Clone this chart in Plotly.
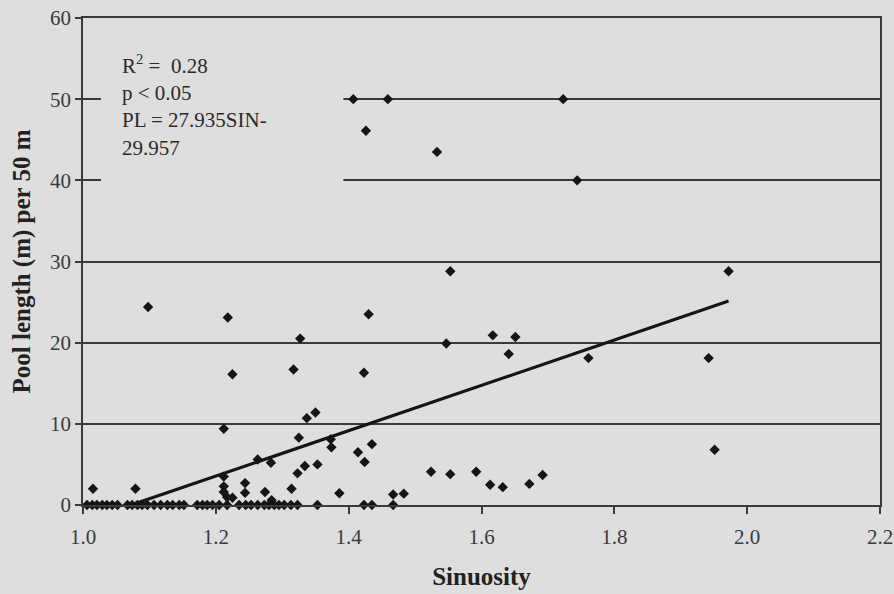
import plotly.graph_objects as go

# Points lying on zero pool length
zero_sin = [1.006, 1.014, 1.021, 1.029, 1.036, 1.044, 1.052, 1.067, 1.074, 1.082,
            1.089, 1.097, 1.107, 1.117, 1.127, 1.135, 1.145, 1.152, 1.172, 1.180,
            1.187, 1.195, 1.205, 1.217, 1.235, 1.245, 1.253, 1.263, 1.273, 1.280,
            1.288, 1.295, 1.303, 1.313, 1.323, 1.353, 1.423, 1.435, 1.467]
zero_pl = [0.0] * len(zero_sin)

# Points with non-zero pool length
sinuosity = [1.015, 1.079, 1.098, 1.212, 1.218, 1.225, 1.212, 1.212, 1.212, 1.217,
             1.225, 1.244, 1.244, 1.263, 1.283, 1.274, 1.284, 1.314, 1.317, 1.323,
             1.325, 1.327, 1.334, 1.337, 1.350, 1.353, 1.373, 1.374, 1.386, 1.407,
             1.414, 1.423, 1.424, 1.426, 1.430, 1.435, 1.459, 1.467, 1.483, 1.524,
             1.533, 1.547, 1.553, 1.553, 1.592, 1.613, 1.617, 1.632, 1.641, 1.651,
             1.672, 1.692, 1.723, 1.744, 1.761, 1.942, 1.951, 1.972]
pool_length = [2.0, 2.0, 24.4, 9.4, 23.1, 16.1, 3.5, 2.3, 1.6, 0.95,
               0.9, 2.7, 1.5, 5.6, 5.2, 1.6, 0.6, 2.0, 16.7, 3.9,
               8.3, 20.5, 4.8, 10.7, 11.4, 5.0, 8.1, 7.1, 1.45, 50.0,
               6.5, 16.3, 5.3, 46.1, 23.5, 7.5, 50.0, 1.3, 1.4, 4.1,
               43.5, 19.9, 28.8, 3.8, 4.1, 2.5, 20.9, 2.2, 18.6, 20.7,
               2.6, 3.7, 50.0, 40.0, 18.1, 18.1, 6.8, 28.8]

# Trend line end points (PL = 27.935 SIN - 29.957)
trend_x = [1.006, 1.972]
trend_y = [-1.85, 25.13]

x_ticks = [1.0, 1.2, 1.4, 1.6, 1.8, 2.0, 2.2]
x_tick_text = ["1.0", "1.2", "1.4", "1.6", "1.8", "2.0", "2.2"]
y_ticks = [0, 10, 20, 30, 40, 50, 60]

BG = "#dedede"
INK = "#151515"
AX = "#3a3a3a"
FONT = "Liberation Serif, Times New Roman, serif"

fig = go.Figure()
fig.add_trace(go.Scatter(x=trend_x, y=trend_y, mode="lines",
                         line=dict(color=INK, width=3.2), showlegend=False,
                         hoverinfo="skip"))
fig.add_trace(go.Scatter(x=zero_sin + sinuosity, y=zero_pl + pool_length,
                         mode="markers",
                         marker=dict(symbol="diamond", size=8, color=INK),
                         showlegend=False, cliponaxis=False))

# Text box that hides the gridlines behind the statistics
fig.add_shape(type="rect", xref="x", yref="y", x0=1.027, x1=1.392, y0=35.5, y1=57.5,
              fillcolor=BG, line=dict(width=0), layer="above")

stats_lines = ["R<sup>2</sup> =  0.28", "p < 0.05", "PL = 27.935SIN-", "29.957"]
fig.add_annotation(xref="x", yref="y", x=1.056, y=56.2, xanchor="left", yanchor="top",
                   text="<br>".join(stats_lines), showarrow=False, align="left",
                   font=dict(family=FONT, size=21, color="#2a2a2a"))

fig.update_xaxes(range=[1.0, 2.2], tickvals=x_ticks, ticktext=x_tick_text,
                 showgrid=False, zeroline=False, showline=True, linecolor=AX,
                 linewidth=1.5, mirror=True, ticks="outside", ticklen=7,
                 tickcolor=AX, tickwidth=1.5, automargin=False,
                 ticklabelstandoff=5,
                 tickfont=dict(family=FONT, size=21, color="#3a3a3a"),
                 title=dict(text="<b>Sinuosity</b>", standoff=20,
                            font=dict(family=FONT, size=25, color="#222222")))
fig.update_yaxes(range=[0, 60], tickvals=y_ticks, showgrid=True, gridcolor=AX,
                 gridwidth=1.5, zeroline=False, showline=True, linecolor=AX,
                 linewidth=1.5, mirror=True, ticks="outside", ticklen=6,
                 tickcolor=AX, tickwidth=1.5, automargin=False,
                 tickfont=dict(family=FONT, size=21, color="#3a3a3a"),
                 title=dict(text="<b>Pool length (m) per 50 m</b>", standoff=12,
                            font=dict(family=FONT, size=25, color="#222222")))

fig.update_layout(width=894, height=594, paper_bgcolor=BG, plot_bgcolor=BG,
                  margin=dict(l=83, r=14, t=18, b=89), showlegend=False)

fig.write_html("out.html")
